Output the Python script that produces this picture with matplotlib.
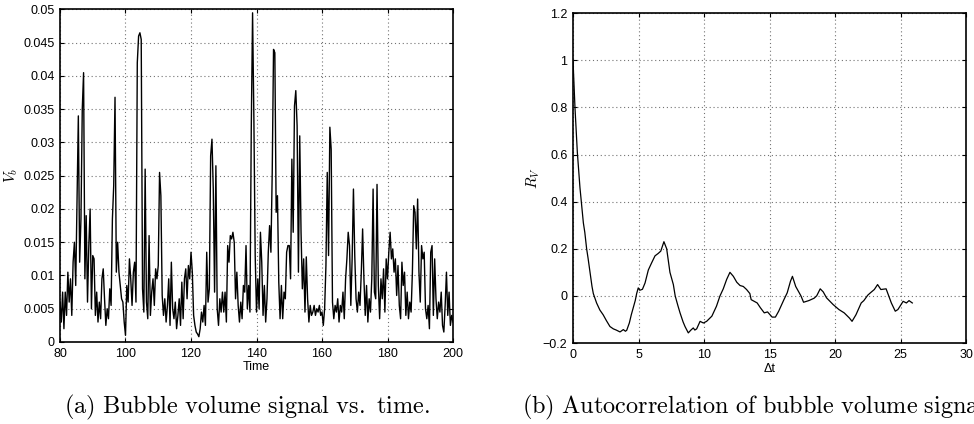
import numpy as np
import matplotlib
matplotlib.use('Agg')
import matplotlib.pyplot as plt

plt.rcParams.update({'font.family': 'Liberation Sans', 'font.size': 9,
                     'mathtext.fontset': 'cm'})

##############################################################################
#   Data                                                 #
##############################################################################
# (a) bubble volume signal, sampled every 0.4 time units from 80 to 200
time = np.arange(80.0, 200.01, 0.4)
vol = [
    0.006, 0.003, 0.0075, 0.002, 0.0075, 0.004, 0.0105, 0.006, 0.0095, 0.004,
    0.012, 0.015, 0.0085, 0.021, 0.034, 0.012, 0.0185, 0.035, 0.0405, 0.0095,
    0.019, 0.006, 0.0145, 0.020, 0.005,
    0.013, 0.0125, 0.004, 0.0075, 0.003, 0.006, 0.0035, 0.0095, 0.011, 0.0065,
    0.0025, 0.005, 0.0035, 0.008, 0.0055, 0.0185, 0.0235, 0.0368, 0.0105, 0.015,
    0.0105, 0.0085, 0.0065, 0.006, 0.003,
    0.001, 0.0085, 0.006, 0.0125, 0.0095, 0.0055, 0.0105, 0.012, 0.006, 0.042,
    0.046, 0.0465, 0.0455, 0.008, 0.0045, 0.026, 0.006, 0.0035, 0.016, 0.004,
    0.0075, 0.0095, 0.0055, 0.011, 0.0095,
    0.0115, 0.0255, 0.022, 0.007, 0.004, 0.0065, 0.003, 0.0055, 0.0095, 0.0025,
    0.012, 0.005, 0.0035, 0.006, 0.002, 0.004, 0.0065, 0.0025, 0.009, 0.0035,
    0.0095, 0.011, 0.0065, 0.0115, 0.0095,
    0.0135, 0.0105, 0.004, 0.0025, 0.0015, 0.0012, 0.0008, 0.002, 0.0045, 0.003,
    0.0055, 0.0025, 0.0135, 0.006, 0.008, 0.028, 0.0305, 0.023, 0.0075, 0.0265,
    0.005, 0.0025, 0.0065, 0.0045, 0.0075,
    0.0045, 0.0075, 0.003, 0.0145, 0.012, 0.016, 0.0155, 0.0165, 0.015, 0.0065,
    0.0105, 0.0055, 0.003, 0.006, 0.0035, 0.0085, 0.0075, 0.0145, 0.005, 0.0085,
    0.0045, 0.032, 0.0495, 0.0335, 0.013,
    0.0045, 0.0095, 0.005, 0.0165, 0.012, 0.004, 0.0085, 0.003, 0.0065, 0.0135,
    0.0175, 0.0135, 0.0255, 0.044, 0.0435, 0.0195, 0.022, 0.009, 0.0035, 0.0085,
    0.0035, 0.0075, 0.0065, 0.0135, 0.0145,
    0.0145, 0.0095, 0.0275, 0.0165, 0.0355, 0.0378, 0.0325, 0.0105, 0.031, 0.0165,
    0.008, 0.0125, 0.0045, 0.0128, 0.0065, 0.003, 0.0055, 0.004, 0.0045, 0.0055,
    0.004, 0.005, 0.0045, 0.0055, 0.004,
    0.0045, 0.0025, 0.005, 0.0115, 0.0255, 0.013, 0.0323, 0.029, 0.006, 0.0035,
    0.0055, 0.0045, 0.0065, 0.003, 0.0055, 0.0045, 0.0075, 0.0035, 0.0095, 0.0125,
    0.0165, 0.0145, 0.0055, 0.0125, 0.023,
    0.013, 0.0065, 0.0045, 0.0075, 0.0055, 0.0105, 0.017, 0.0095, 0.004, 0.0085,
    0.003, 0.0065, 0.0045, 0.0095, 0.023, 0.0075, 0.0065, 0.0237, 0.0085, 0.0035,
    0.0095, 0.0065, 0.011, 0.0045, 0.0125,
    0.0095, 0.0135, 0.0165, 0.0125, 0.014, 0.0105, 0.0125, 0.007, 0.0115, 0.0055,
    0.0035, 0.012, 0.0085, 0.0105, 0.004, 0.0075, 0.0035, 0.006, 0.0045, 0.0105,
    0.0205, 0.0195, 0.014, 0.0215, 0.0105,
    0.006, 0.0145, 0.0125, 0.0135, 0.005, 0.0035, 0.0055, 0.002, 0.0135, 0.0145,
    0.004, 0.0125, 0.0065, 0.0035, 0.006, 0.0045, 0.0075, 0.0025, 0.0015, 0.0055,
    0.0105, 0.004, 0.0075, 0.0025, 0.004, 0.003,
]

# (b) autocorrelation of the volume signal
lag = [0.0, 0.15, 0.33, 0.53, 0.79, 0.9, 1.04, 1.15, 1.3, 1.45, 1.55, 1.8, 2.05,
       2.3, 2.55, 2.82, 3.08, 3.3, 3.59, 3.84, 4.0, 4.1, 4.3, 4.45, 4.6, 4.75,
       4.86, 4.98, 5.1, 5.3, 5.5, 5.75, 6.0, 6.26, 6.5, 6.7, 6.94, 7.15, 7.3,
       7.4, 7.66, 7.8, 8.0, 8.17, 8.4, 8.55, 8.8, 9.0, 9.18, 9.3, 9.44, 9.7,
       9.95, 10.2, 10.6, 10.95, 11.22, 11.47, 11.73, 11.98, 12.24, 12.5, 12.75,
       13.0, 13.25, 13.5, 13.6, 14.06, 14.3, 14.6, 14.85, 15.2, 15.45, 15.7,
       16.1, 16.35, 16.6, 16.75, 17.0, 17.4, 17.6, 18.0, 18.4, 18.6, 18.87,
       19.1, 19.35, 19.86, 20.3, 20.7, 21.1, 21.3, 21.6, 22.0, 22.2, 22.5,
       22.7, 23.0, 23.25, 23.5, 23.9, 24.3, 24.6, 24.8, 25.2, 25.45, 25.65, 25.9]
corr = [1.0, 0.80, 0.61, 0.46, 0.31, 0.27, 0.20, 0.16, 0.10, 0.04, 0.01, -0.03,
        -0.06, -0.08, -0.105, -0.13, -0.14, -0.145, -0.153, -0.143, -0.15,
        -0.146, -0.115, -0.08, -0.05, -0.02, 0.01, 0.034, 0.024, 0.028, 0.055,
        0.11, 0.14, 0.17, 0.18, 0.19, 0.23, 0.20, 0.14, 0.10, 0.048, 0.0, -0.04,
        -0.072, -0.11, -0.13, -0.157, -0.145, -0.136, -0.145, -0.14, -0.108,
        -0.115, -0.108, -0.086, -0.044, 0.0, 0.03, 0.07, 0.10, 0.083, 0.058,
        0.044, 0.04, 0.027, 0.01, -0.016, -0.03, -0.05, -0.072, -0.068, -0.09,
        -0.09, -0.065, -0.016, 0.013, 0.062, 0.083, 0.04, 0.0, -0.027, -0.02,
        -0.01, 0.0, 0.03, 0.017, -0.008, -0.037, -0.058, -0.072, -0.094, -0.108,
        -0.08, -0.03, -0.02, 0.003, 0.013, 0.027, 0.048, 0.027, 0.03, -0.03,
        -0.065, -0.058, -0.023, -0.03, -0.02, -0.03]

xticks_a = [80, 100, 120, 140, 160, 180, 200]
yticks_a = [0, 0.005, 0.01, 0.015, 0.02, 0.025, 0.03, 0.035, 0.04, 0.045, 0.05]
xticks_b = [0, 5, 10, 15, 20, 25, 30]
yticks_b = [-0.2, 0, 0.2, 0.4, 0.6, 0.8, 1, 1.2]


def matlab_style(ax):
    # boxed axes, inward ticks on all sides, dotted grid
    ax.tick_params(direction='in', top=True, right=True, length=3, pad=4,
                   width=0.8, labelsize=9)
    for s in ax.spines.values():
        s.set_linewidth(1.2)
    ax.grid(True, linestyle=(0, (1, 2.5)), color='0.45', linewidth=0.8)
    ax.set_axisbelow(True)


fig = plt.figure(figsize=(9.74, 4.24), dpi=100)

# (a) signal vs. time
ax1 = fig.add_axes([0.0616, 0.1934, 0.4035, 0.7842])
ax1.plot(time, vol, 'k', lw=1.0)
ax1.set_xlim(80, 200)
ax1.set_ylim(0, 0.05)
ax1.set_xticks(xticks_a)
ax1.set_yticks(yticks_a)
ax1.set_yticklabels(['0', '0.005', '0.01', '0.015', '0.02', '0.025', '0.03',
                     '0.035', '0.04', '0.045', '0.05'])
matlab_style(ax1)
ax1.set_xlabel('Time', fontsize=9)
ax1.xaxis.set_label_coords(0.5, -0.058)
ax1.set_ylabel('$V_b$', fontsize=11)
ax1.yaxis.set_label_coords(-0.101, 0.5)

# (b) autocorrelation
ax2 = fig.add_axes([0.5883, 0.191, 0.4035, 0.778])
ax2.plot(lag, corr, 'k', lw=0.9)
ax2.set_xlim(0, 30)
ax2.set_ylim(-0.2, 1.2)
ax2.set_xticks(xticks_b)
ax2.set_yticks(yticks_b)
ax2.set_yticklabels(['\u22120.2', '0', '0.2', '0.4', '0.6', '0.8', '1', '1.2'])
matlab_style(ax2)
ax2.set_xlabel('\u0394t', fontsize=9)
ax2.xaxis.set_label_coords(0.5, -0.062)
ax2.set_ylabel('$R_V$', fontsize=11)
ax2.yaxis.set_label_coords(-0.078, 0.5)

# sub-captions (the second one runs off the right edge, as in the original)
fig.text(0.2533, 0.040, r'$\mathrm{(a)\ Bubble\ volume\ signal\ vs.\ time.}$',
         fontsize=17.5, ha='center', va='center')
fig.text(0.5356, 0.040,
         r'$\mathrm{(b)\ Autocorrelation\ of\ bubble\ volume\ signal.}$',
         fontsize=17.5, ha='left', va='center')

fig.savefig('out.png', dpi=100)
